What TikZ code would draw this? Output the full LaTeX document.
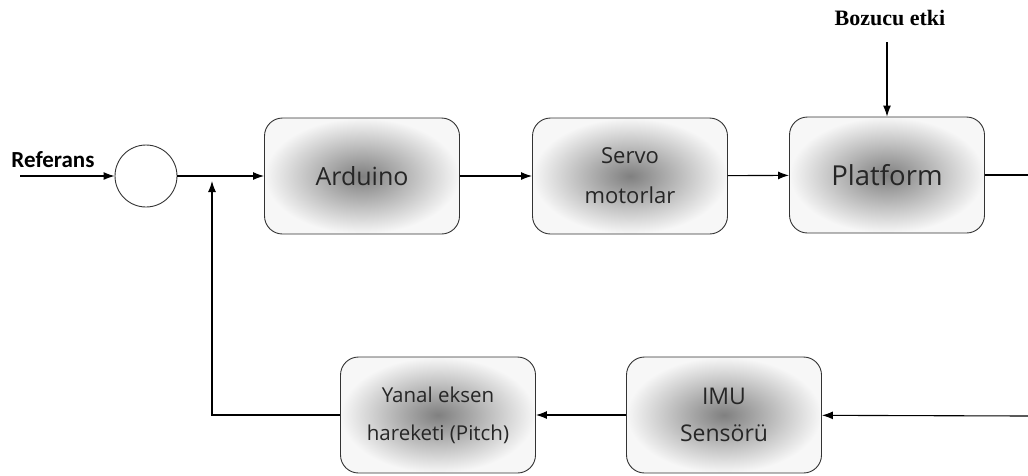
\documentclass[tikz,border=0pt]{standalone}
\usepackage{fontspec}
\setmainfont{Open Sans}
\newfontfamily\calfont{Carlito}
\newfontfamily\timesfont{Liberation Serif}
\usetikzlibrary{arrows.meta}

\begin{document}
\begin{tikzpicture}[x=1pt,y=1pt,>={Latex[length=11pt,width=8pt]},line width=1.1pt,
	block/.style={draw=black!80,line width=0.9pt,rounded corners=18pt,shading=radial,inner color=black!50,outer color=black!3,minimum width=195pt,minimum height=116pt,align=center,text=black!85},
	sumnode/.style={draw=black!80,line width=0.9pt,circle,minimum size=62pt,inner sep=0pt}]
		\useasboundingbox (0,0) rectangle (1028,-475);
		\node (ref) at (53,-160) {\calfont\bfseries\fontsize{23}{26}\selectfont Referans};
		\coordinate (in) at (20,-176);
		\node [sumnode] (sum) at (146,-176) {};
		\node [block,font=\fontsize{25}{30}\selectfont] (ard) at (362,-176) {Arduino};
		\node [block,font=\fontsize{22}{40}\selectfont] (servo) at (630,-176) {Servo\\motorlar};
		\node [block,font=\fontsize{27.5}{32}\selectfont] (plat) at (887,-175) {Platform};
		\node (boz) at (890,-18) {\timesfont\bfseries\fontsize{22}{26}\selectfont Bozucu etki};
		\coordinate (dist) at (887,-42);
		\coordinate (out) at (1028,-175);
		\node [block,font=\fontsize{23}{37}\selectfont] (imu) at (724,-415) {\raisebox{-5pt}{IMU}\\\raisebox{-5pt}{Sensörü}};
		\node [block,font=\fontsize{20.5}{38}\selectfont] (pitch) at (438,-415) {\raisebox{3pt}{Yanal eksen}\\\raisebox{3pt}{hareketi (Pitch)}};
		\coordinate (fb) at (1028,-416);
		\coordinate (join) at (212,-181);
		\draw [->] (in) -- (sum);
		\draw [->] (sum) -- (ard);
		\draw [->] (ard) -- (servo);
		\draw [->] (servo) -- (plat);
		\draw [->] (dist) -- (plat);
		\draw (plat) -- (out);
		\draw [->] (fb) -- (imu);
		\draw [->] (imu) -- (pitch);
		\draw [->] (pitch.west) -| (join);
		\end{tikzpicture}
\end{document}
